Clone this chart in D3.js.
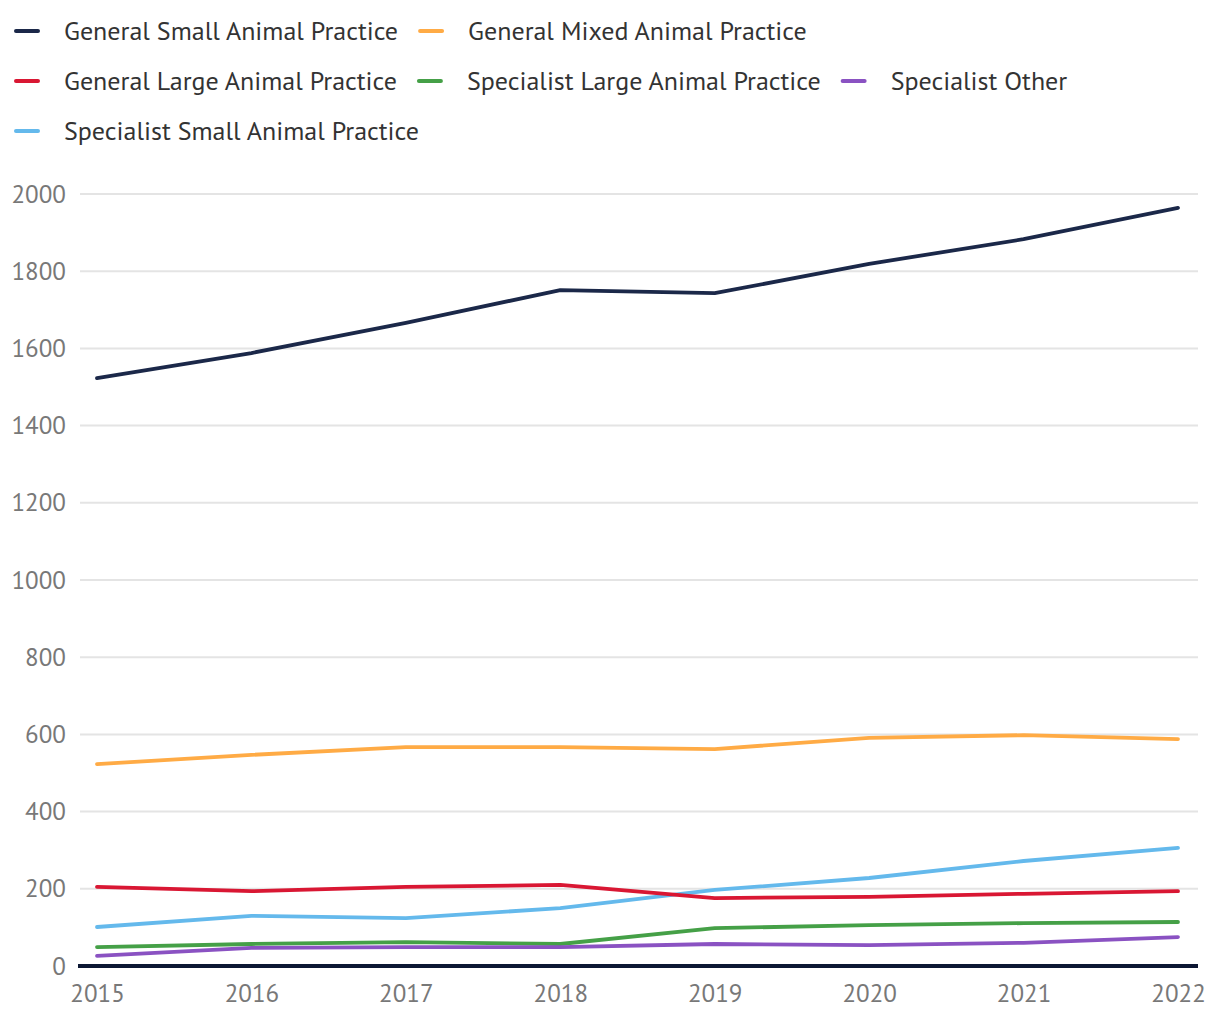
<!DOCTYPE html>
<html><head><meta charset="utf-8">
<script src="https://cdn.jsdelivr.net/npm/d3@7"></script>
<style>
html,body{margin:0;padding:0;background:#fff;}
svg{display:block;font-family:"PT Sans",Lato,"Noto Sans",sans-serif;}
</style></head>
<body><svg id="chart" width="1220" height="1020"></svg>
<script>
const years = [2015, 2016, 2017, 2018, 2019, 2020, 2021, 2022];
const seriesNames = ["General Small Animal Practice", "General Mixed Animal Practice", "General Large Animal Practice", "Specialist Large Animal Practice", "Specialist Other", "Specialist Small Animal Practice"];
const seriesColors = ["#1b2849", "#ffab45", "#d91733", "#45a047", "#8a52c2", "#64b9ec"];
const generalSmall = [1523, 1588, 1666, 1751, 1743, 1819, 1883, 1964];
const generalMixed = [523, 547, 567, 567, 562, 591, 598, 588];
const generalLarge = [205, 194, 205, 210, 176, 179, 187, 194];
const specialistLarge = [49, 57, 62, 57, 98, 106, 111, 114];
const specialistOther = [26, 47, 49, 49, 57, 54, 60, 75];
const specialistSmall = [101, 130, 124, 150, 197, 228, 272, 306];
const yTicks = [0, 200, 400, 600, 800, 1000, 1200, 1400, 1600, 1800, 2000];

const seriesValues = [generalSmall, generalMixed, generalLarge, specialistLarge, specialistOther, specialistSmall];
const svg = d3.select("#chart");

// Legend
const legend = svg.append("g");
let lx = 14, ly = 31;
seriesNames.forEach((name, i) => {
  const g = legend.append("g");
  g.append("line").attr("x1", 2).attr("x2", 24).attr("y1", 0).attr("y2", 0)
    .attr("stroke", seriesColors[i]).attr("stroke-width", 4).attr("stroke-linecap", "round");
  const t = g.append("text").attr("x", 50).attr("y", 0).attr("dy", "0.35em")
    .attr("font-size", 26).attr("fill", "#333").text(name);
  const w = 50 + t.node().getComputedTextLength();
  if (lx + w > 1200) { lx = 14; ly += 50; }
  g.attr("transform", `translate(${lx},${ly})`);
  lx += w + 20;
});

const x = d3.scalePoint().domain(years).range([97, 1178]);
const y = d3.scaleLinear().domain([0, 2000]).range([966, 194]);

// Gridlines
const grid = svg.append("g");
grid.selectAll("line").data(yTicks.filter(d => d > 0)).join("line")
  .attr("x1", 80).attr("x2", 1198).attr("y1", d => y(d)).attr("y2", d => y(d))
  .attr("stroke", "#e4e4e4").attr("stroke-width", 2);

// Y axis labels
const yAxis = d3.axisLeft(y).tickValues(yTicks).tickSize(0).tickPadding(0).tickFormat(d3.format("d"));
const ya = svg.append("g").attr("transform", "translate(66,0)").call(yAxis).attr("font-family", null).attr("font-size", null);
ya.select(".domain").remove();
ya.selectAll("text").attr("font-size", 25).attr("fill", "#787878");

// Lines
const line = d3.line().x((d, i) => x(years[i])).y(d => y(d));
const order = [0, 1, 5, 2, 3, 4];
order.forEach(i => {
  svg.append("path").datum(seriesValues[i]).attr("d", line)
    .attr("fill", "none").attr("stroke", seriesColors[i]).attr("stroke-width", 3.8)
    .attr("stroke-linecap", "round").attr("stroke-linejoin", "round");
});

// X axis
svg.append("line").attr("x1", 78).attr("x2", 1198).attr("y1", y(0)).attr("y2", y(0))
  .attr("stroke", "#0c1733").attr("stroke-width", 4);
const xAxis = d3.axisBottom(x).tickSize(0).tickPadding(0).tickFormat(d3.format("d"));
const xa = svg.append("g").attr("transform", "translate(0,1002)").call(xAxis).attr("font-family", null).attr("font-size", null);
xa.select(".domain").remove();
xa.selectAll("text").attr("font-size", 25).attr("fill", "#787878").attr("dy", "0").attr("y", 0);
</script></body></html>
